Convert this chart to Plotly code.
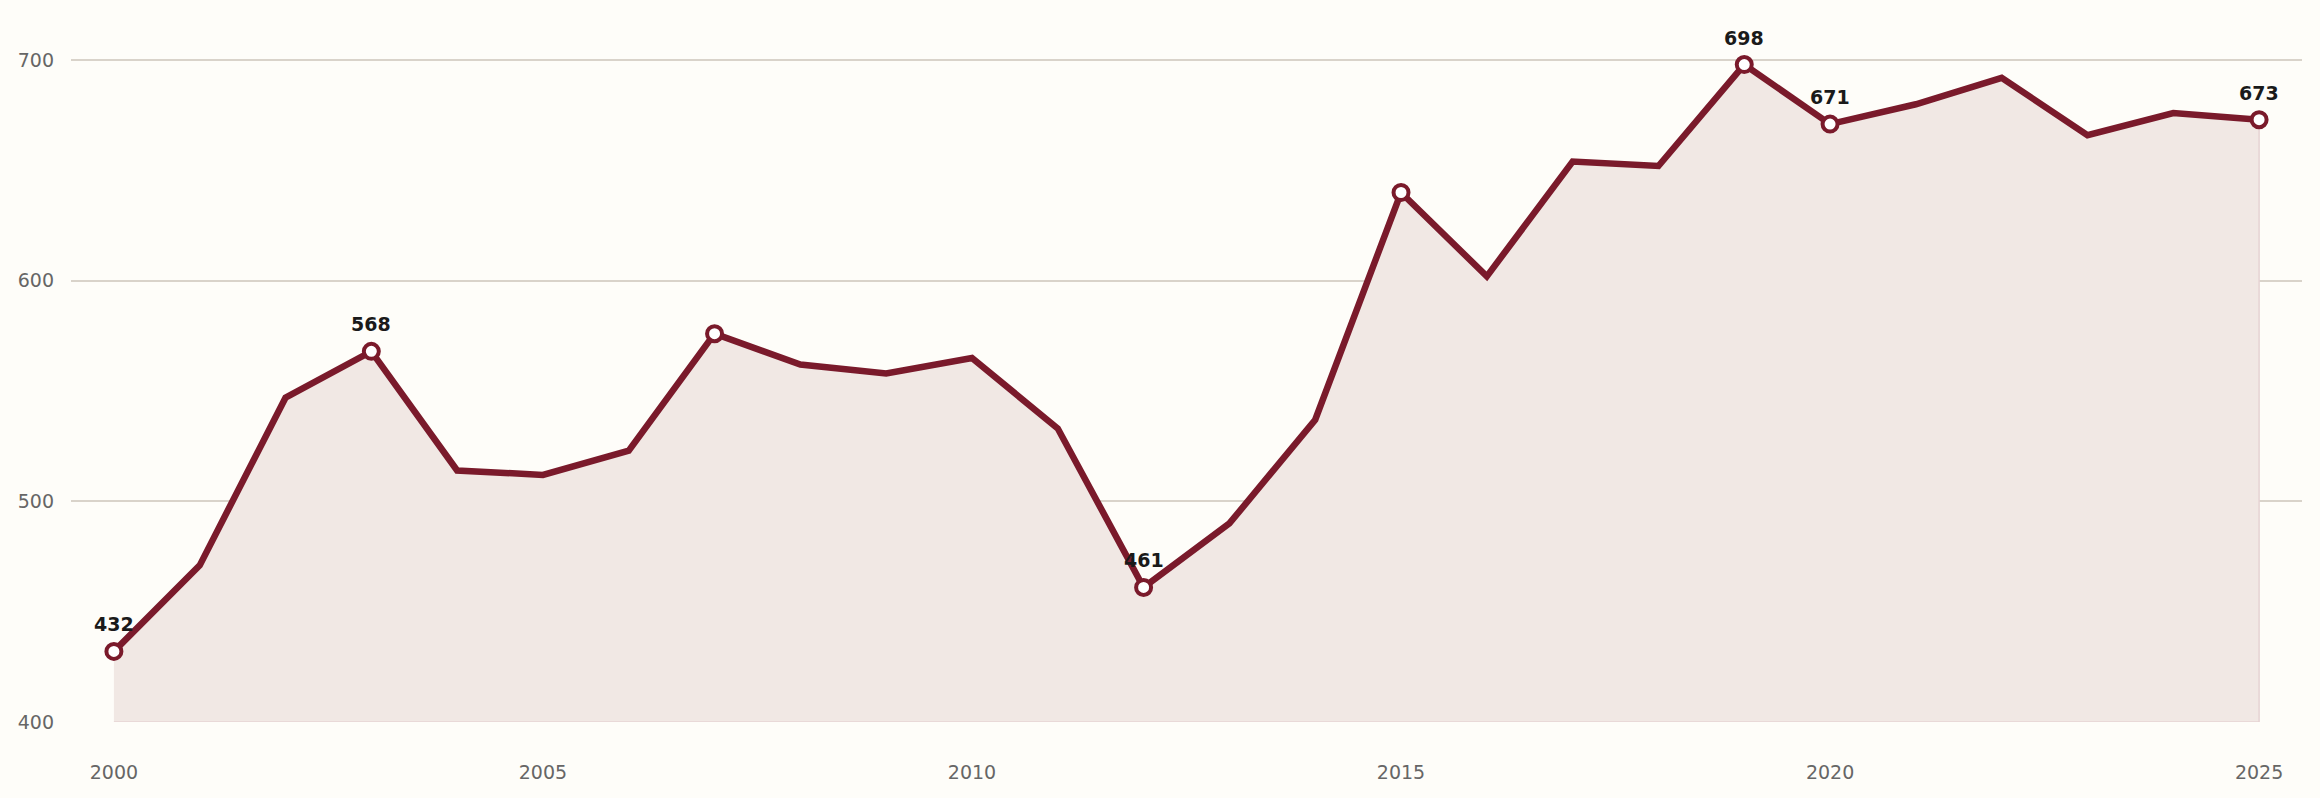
import plotly.graph_objects as go

years = list(range(2000, 2026))
values = [432, 471, 547, 568, 514, 512, 523, 576, 562, 558, 565, 533, 461,
          490, 537, 640, 602, 654, 652, 698, 671, 680, 692, 666, 676, 673]
marker_years = [2000, 2003, 2007, 2012, 2015, 2019, 2020, 2025]
label_years = [2000, 2003, 2012, 2019, 2020, 2025]
y_ticks = [400, 500, 600, 700]
x_ticks = [2000, 2005, 2010, 2015, 2020, 2025]
baseline = 400

LINE = "#7a1a2b"
FILL = "#f1e8e4"
BG = "#fefdf9"
GRID = "#d9d3ca"
FONT = "DejaVu Sans"

fig = go.Figure()

# area polygon down to baseline
fig.add_trace(go.Scatter(
    x=years + [years[-1], years[0]],
    y=values + [baseline, baseline],
    fill="toself", fillcolor=FILL,
    line=dict(color="#e6d3d3", width=1.5),
    mode="lines", hoverinfo="skip", showlegend=False))

fig.add_trace(go.Scatter(
    x=years, y=values, mode="lines",
    line=dict(color=LINE, width=6.5),
    showlegend=False))

mv = [values[years.index(y)] for y in marker_years]
fig.add_trace(go.Scatter(
    x=marker_years, y=mv, mode="markers",
    marker=dict(size=15, color="white", line=dict(color=LINE, width=4)),
    showlegend=False))

for yr in label_years:
    v = values[years.index(yr)]
    fig.add_annotation(x=yr, y=v, text="<b>%d</b>" % v, showarrow=False,
                       yshift=27, font=dict(family=FONT, size=19, color="#1a1a1a"))

fig.update_layout(
    width=2320, height=798,
    paper_bgcolor=BG, plot_bgcolor=BG,
    margin=dict(l=71, r=18, t=16, b=76),
    font=dict(family=FONT, size=19, color="#666"),
    xaxis=dict(range=[1999.5, 2025.5], tickvals=x_ticks, showgrid=False,
               zeroline=False, showline=False, ticks="", ticklabelstandoff=37,
               tickfont=dict(size=19, color="#666")),
    yaxis=dict(range=[400, 720], tickvals=y_ticks, showgrid=True,
               gridcolor=GRID, gridwidth=2, zeroline=False, showline=False,
               ticks="", ticklabelstandoff=16,
               tickfont=dict(size=19, color="#666")),
)

fig.write_html("out.html",
               config={"displayModeBar": False},
               post_script="document.body.style.margin='0';"
                           "document.body.style.background='#fefdf9';")
